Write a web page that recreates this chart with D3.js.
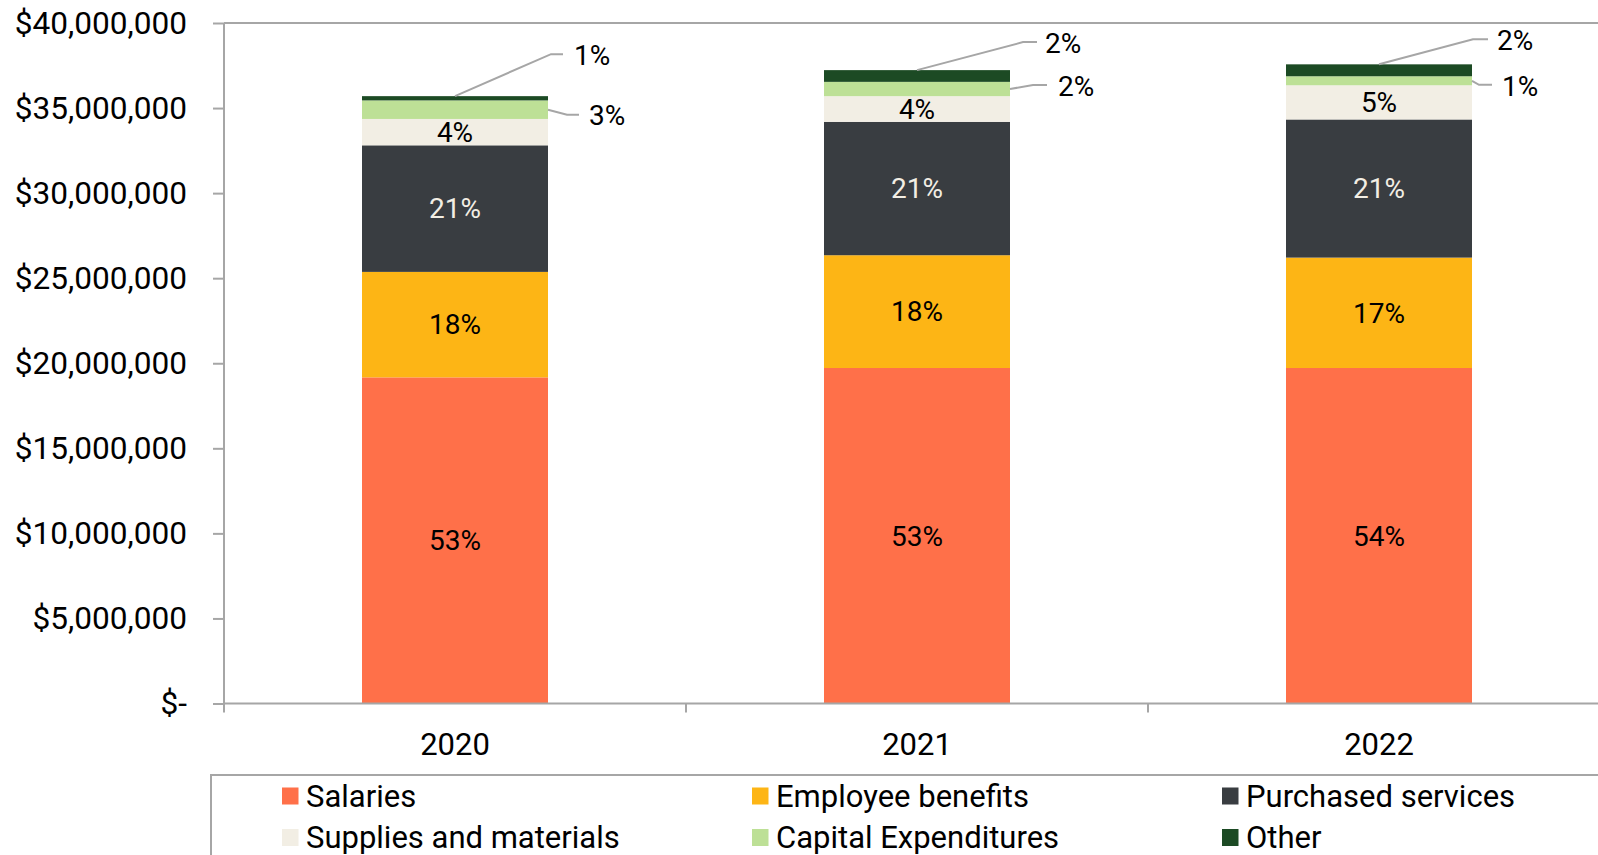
<!DOCTYPE html>
<html>
<head>
<meta charset="utf-8">
<script src="https://cdn.jsdelivr.net/npm/d3@7"></script>
<style>
  html, body { margin: 0; padding: 0; background: #ffffff; overflow: hidden; }
  svg { display: block; font-family: Roboto, "Noto Sans", sans-serif; }
</style>
</head>
<body>
<svg id="chart" width="1598" height="855"></svg>
<script>
// ---------- data ----------
const years = ["2020", "2021", "2022"];
const seriesNames = ["Salaries", "Employee benefits", "Purchased services",
                     "Supplies and materials", "Capital Expenditures", "Other"];
const salaries          = [19170000, 19720000, 19720000];
const employeeBenefits  = [6200000, 6630000, 6490000];
const purchasedServices = [7440000, 7840000, 8120000];
const supplies          = [1550000, 1510000, 2010000];
const capitalExp        = [1090000, 840000, 530000];
const other             = [250000, 690000, 700000];
// percentage labels as printed on the chart
const pctSalaries  = ["53%", "53%", "54%"];
const pctBenefits  = ["18%", "18%", "17%"];
const pctPurchased = ["21%", "21%", "21%"];
const pctSupplies  = ["4%", "4%", "5%"];
const pctCapital   = ["3%", "2%", "1%"];
const pctOther     = ["1%", "2%", "2%"];
const yTicks = [0, 5000000, 10000000, 15000000, 20000000, 25000000, 30000000, 35000000, 40000000];

// ---------- styles / layout ----------
const colors = ["#FF7049", "#FDB515", "#393D41", "#F2EEE4", "#BDE096", "#1C4A24"];
const labelColors = ["#000", "#000", "#F2EEE4", "#000", "#000", "#000"];
const axisColor = "#A6A6A6";
const plotLeft = 224, plotTop = 23, plotBottom = 703.5, stepW = 462;

const seriesVals = [salaries, employeeBenefits, purchasedServices, supplies, capitalExp, other];
const seriesPct  = [pctSalaries, pctBenefits, pctPurchased, pctSupplies, pctCapital, pctOther];

const rows = years.map((y, i) => {
  const r = { year: y };
  seriesNames.forEach((s, k) => r[s] = seriesVals[k][i]);
  return r;
});

const svg = d3.select("#chart");

const x = d3.scaleBand().domain(years)
  .range([plotLeft, plotLeft + stepW * years.length])
  .paddingInner(1 - 186 / stepW).paddingOuter((1 - 186 / stepW) / 2);
const y = d3.scaleLinear().domain([0, 40000000]).range([plotBottom, plotTop]);

const stack = d3.stack().keys(seriesNames);
const stacked = stack(rows);

// top border line of plot area
svg.append("line")
  .attr("x1", plotLeft).attr("x2", 1700)
  .attr("y1", y(40000000)).attr("y2", y(40000000))
  .attr("stroke", axisColor).attr("stroke-width", 2);

// bars
const g = svg.append("g");
stacked.forEach((layer, k) => {
  g.selectAll(null).data(layer).enter().append("rect")
    .attr("x", d => x(d.data.year))
    .attr("width", x.bandwidth())
    .attr("y", d => y(d[1]))
    .attr("height", d => y(d[0]) - y(d[1]))
    .attr("fill", colors[k]);
});

// y axis
const yAxis = d3.axisLeft(y).tickValues(yTicks).tickSize(11).tickPadding(26)
  .tickFormat(d => d === 0 ? "$-" : "$" + d3.format(",")(d));
const ya = svg.append("g").attr("transform", `translate(${plotLeft},0)`).call(yAxis);
ya.select(".domain").attr("stroke", axisColor).attr("stroke-width", 2)
  .attr("d", `M0,${plotTop}V${plotBottom}`);
ya.selectAll(".tick line").attr("stroke", axisColor).attr("stroke-width", 2);
ya.selectAll(".tick text").attr("fill", "#000").style("font-size", "31.6px")
  .attr("font-family", "Roboto").attr("x", -37);

// x axis baseline + boundary ticks
svg.append("line").attr("x1", plotLeft).attr("x2", 1700)
  .attr("y1", plotBottom).attr("y2", plotBottom)
  .attr("stroke", axisColor).attr("stroke-width", 2);
d3.range(years.length + 1).forEach(i => {
  const bx = plotLeft + i * x.step();
  svg.append("line").attr("x1", bx).attr("x2", bx)
    .attr("y1", plotBottom).attr("y2", plotBottom + 9)
    .attr("stroke", axisColor).attr("stroke-width", 2);
});
const xAxis = d3.axisBottom(x).tickSize(0).tickPadding(0);
const xa = svg.append("g").attr("transform", `translate(0,${plotBottom})`).call(xAxis);
xa.select(".domain").remove();
xa.selectAll(".tick text").attr("fill", "#000").style("font-size", "31px")
  .attr("font-family", "Roboto").attr("y", 41).attr("dy", "0.35em");

// inner labels (first four series)
for (let k = 0; k < 4; k++) {
  g.selectAll(null).data(stacked[k]).enter().append("text")
    .attr("x", d => x(d.data.year) + x.bandwidth() / 2)
    .attr("y", d => (y(d[0]) + y(d[1])) / 2)
    .attr("dy", "0.35em")
    .attr("text-anchor", "middle")
    .attr("fill", labelColors[k])
    .style("font-size", "28px")
    .text((d, i) => seriesPct[k][i]);
}

// callouts: offsets of elbow / line-end / text relative to anchor
const otherOffsets = [
  { ex: 96, ey: -42, lx: 108, tx: 119 },
  { ex: 106, ey: -28, lx: 120, tx: 128 },
  { ex: 94, ey: -25, lx: 109, tx: 118 }
];
const capOffsets = [
  { ex: 19, ey: 5, lx: 31, tx: 41 },
  { ex: 23, ey: -4, lx: 37, tx: 48 },
  { ex: 7, ey: 4, lx: 20, tx: 30 }
];
function callout(ax, ay, o, txt) {
  svg.append("path")
    .attr("d", `M${ax},${ay}L${ax + o.ex},${ay + o.ey}H${ax + o.lx}`)
    .attr("fill", "none").attr("stroke", "#A6A6A6").attr("stroke-width", 2);
  svg.append("text").attr("x", ax + o.tx).attr("y", ay + o.ey + 1)
    .attr("dy", "0.35em").attr("fill", "#000").style("font-size", "28px").text(txt);
}
stacked[5].forEach((d, i) => {
  callout(x(d.data.year) + x.bandwidth() / 2, y(d[1]), otherOffsets[i], seriesPct[5][i]);
});
stacked[4].forEach((d, i) => {
  callout(x(d.data.year) + x.bandwidth(), (y(d[0]) + y(d[1])) / 2, capOffsets[i], seriesPct[4][i]);
});

// legend
svg.append("rect").attr("x", 211).attr("y", 775).attr("width", 1600).attr("height", 200)
  .attr("fill", "none").attr("stroke", axisColor).attr("stroke-width", 2);
const leg = svg.append("g");
seriesNames.forEach((s, k) => {
  const col = k % 3, row = Math.floor(k / 3);
  const lx = 282 + col * 470, ly = 796 + row * 41.5;
  leg.append("rect").attr("x", lx).attr("y", ly - 8.5).attr("width", 16.5).attr("height", 17)
    .attr("fill", colors[k]);
  leg.append("text").attr("x", lx + 24).attr("y", ly).attr("dy", "0.35em")
    .attr("fill", "#000").style("font-size", "31px").text(s);
});
</script>
</body>
</html>
